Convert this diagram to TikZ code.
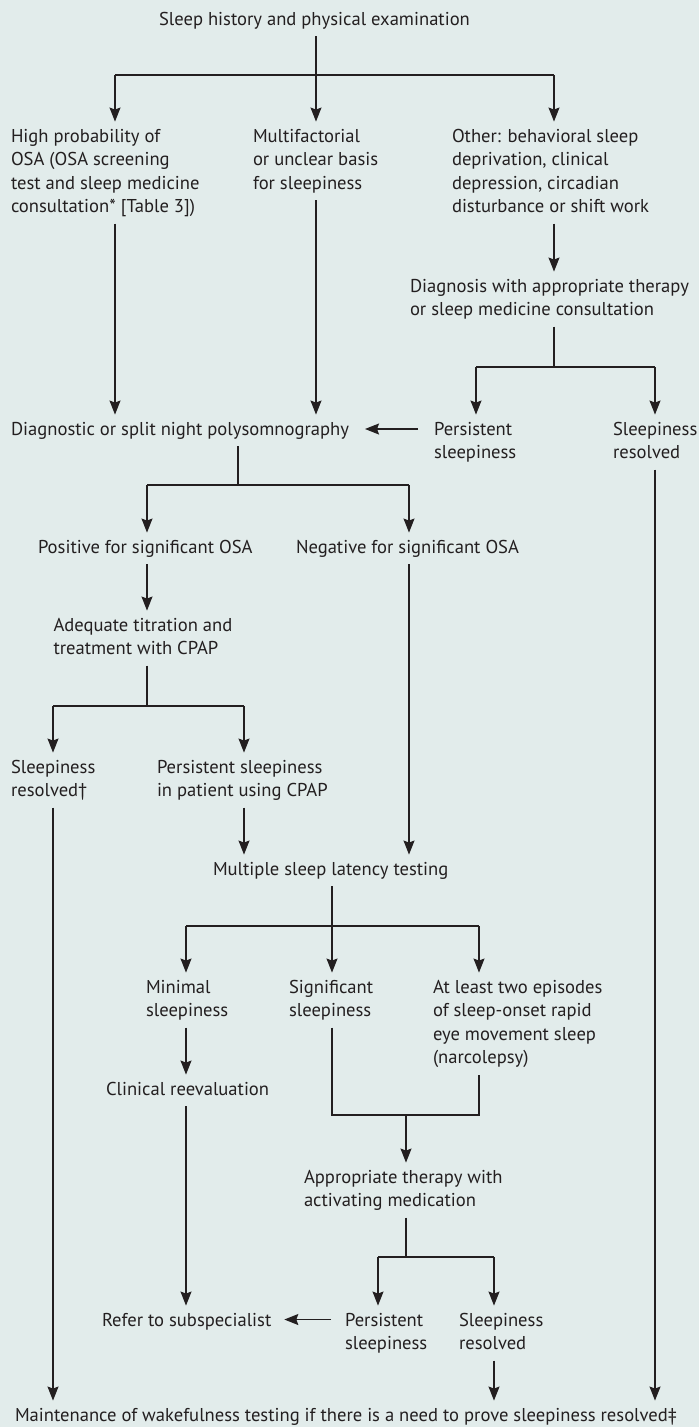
\documentclass[tikz,border=0pt]{standalone}
\usepackage{fontspec}
\setmainfont{PT Sans}
\usetikzlibrary{arrows.meta}
\definecolor{bg}{HTML}{E2ECEB}
\definecolor{ink}{HTML}{231F20}
\newcommand{\mlines}[1]{\begin{tabular}[t]{@{}l@{}}#1\end{tabular}}
\begin{document}
\begin{tikzpicture}[x=1pt,y=-1pt,
  txt/.style={anchor=base west, inner sep=0pt, outer xsep=0pt, outer ysep=4pt, text=ink,
    font=\fontsize{18.6}{23.5}\selectfont},
  conn/.style={draw=ink, line width=1.2pt},
  arr/.style={conn, -{Stealth[length=14pt,width=11pt,inset=2pt]}}]
\fill[bg] (0,0) rectangle (699,1427);
\useasboundingbox (0,0) rectangle (699,1427);

% nodes
\node[txt] (t) at (159,25) {\mlines{Sleep history and physical examination}};
\node[txt] (hp) at (11,142) {\mlines{High probability of\\OSA (OSA screening\\test and sleep medicine\\consultation* [Table 3])}};
\node[txt] (mf) at (253,142) {\mlines{Multifactorial\\or unclear basis\\for sleepiness}};
\node[txt] (oth) at (452,142) {\mlines{Other: behavioral sleep\\deprivation, clinical\\depression, circadian\\disturbance or shift work}};
\node[txt] (diag) at (410,292) {\mlines{Diagnosis with appropriate therapy\\or sleep medicine consultation}};
\node[txt] (dsn) at (11,435) {\mlines{Diagnostic or split night polysomnography}};
\node[txt] (ps1) at (434,435) {\mlines{Persistent\\sleepiness}};
\node[txt] (sr1) at (613,435) {\mlines{Sleepiness\\resolved}};
\node[txt] (pos) at (38,553) {\mlines{Positive for significant OSA}};
\node[txt] (neg) at (296,553) {\mlines{Negative for significant OSA}};
\node[txt] (adq) at (53.5,631) {\mlines{Adequate titration and\\treatment with CPAP}};
\node[txt] (sr2) at (11,773) {\mlines{Sleepiness\\resolved†}};
\node[txt] (ps2) at (157,773) {\mlines{Persistent sleepiness\\in patient using CPAP}};
\node[txt] (mslt) at (213,875) {\mlines{Multiple sleep latency testing}};
\node[txt] (min) at (146,993) {\mlines{Minimal\\sleepiness}};
\node[txt] (sig) at (289,993) {\mlines{Significant\\sleepiness}};
\node[txt] (atl) at (433,993) {\mlines{At least two episodes\\of sleep-onset rapid\\eye movement sleep\\(narcolepsy)}};
\node[txt] (clin) at (106,1095) {\mlines{Clinical reevaluation}};
\node[txt] (appr) at (304,1183) {\mlines{Appropriate therapy with\\activating medication}};
\node[txt] (ref) at (102,1326) {\mlines{Refer to subspecialist}};
\node[txt] (ps3) at (345,1326) {\mlines{Persistent\\sleepiness}};
\node[txt] (sr3) at (459,1326) {\mlines{Sleepiness\\resolved}};
\node[txt] (mwt) at (15,1421) {\mlines{Maintenance of wakefulness testing if there is a need to prove sleepiness resolved‡}};

% junction coordinates
\coordinate (b1) at (316,75); \coordinate (b1l) at (115,75); \coordinate (b1r) at (554,75);
\coordinate (b2) at (554,367); \coordinate (b2l) at (476,367); \coordinate (b2r) at (655,367);
\coordinate (b3) at (238,485); \coordinate (b3l) at (147,485); \coordinate (b3r) at (409,485);
\coordinate (b4) at (147,706); \coordinate (b4l) at (53,706); \coordinate (b4r) at (244,706);
\coordinate (b5) at (332,926); \coordinate (b5l) at (186,926); \coordinate (b5r) at (479,926);
\coordinate (b6) at (406,1115);
\coordinate (b7) at (406,1257); \coordinate (b7l) at (378,1257); \coordinate (b7r) at (494,1257);

% connectors
\draw[conn] (t.south -| b1) -- (b1);
\draw[conn] (b1l) -- (b1r);
\draw[arr] (b1l) -- (b1l |- hp.north);
\draw[arr] (b1) -- (b1 |- mf.north);
\draw[arr] (b1r) -- (b1r |- oth.north);

\draw[arr] (hp.south -| b1l) -- (b1l |- dsn.north);
\draw[arr] (mf.south -| b1) -- (b1 |- dsn.north);
\draw[arr] (oth.south -| b1r) -- (b1r |- diag.north);

\draw[conn] (diag.south -| b2) -- (b2);
\draw[conn] (b2l) -- (b2r);
\draw[arr] (b2l) -- (b2l |- ps1.north);
\draw[arr] (b2r) -- (b2r |- sr1.north);
\draw[arr] ([xshift=-16pt,yshift=6pt]ps1.base west) -- ([xshift=16pt,yshift=6pt]dsn.base east);

\draw[conn] (dsn.south -| b3) -- (b3);
\draw[conn] (b3l) -- (b3r);
\draw[arr] (b3l) -- (b3l |- pos.north);
\draw[arr] (b3r) -- (b3r |- neg.north);
\draw[arr] (pos.south -| b3l) -- (b3l |- adq.north);

\draw[conn] (adq.south -| b4) -- (b4);
\draw[conn] (b4l) -- (b4r);
\draw[arr] (b4l) -- (b4l |- sr2.north);
\draw[arr] (b4r) -- (b4r |- ps2.north);
\draw[arr] (ps2.south -| b4r) -- (b4r |- mslt.north);
\draw[arr] (neg.south -| b3r) -- (b3r |- mslt.north);

\draw[conn] (mslt.south -| b5) -- (b5);
\draw[conn] (b5l) -- (b5r);
\draw[arr] (b5l) -- (b5l |- min.north);
\draw[arr] (b5) -- (b5 |- sig.north);
\draw[arr] (b5r) -- (b5r |- atl.north);
\draw[arr] (min.south -| b5l) -- (b5l |- clin.north);

\draw[conn] (sig.south -| b5) |- (b6) -| (atl.south -| b5r);
\draw[arr] (b6) -- (b6 |- appr.north);

\draw[conn] (appr.south -| b7) -- (b7);
\draw[conn] (b7l) -- (b7r);
\draw[arr] (b7l) -- (b7l |- ps3.north);
\draw[arr] (b7r) -- (b7r |- sr3.north);
\draw[arr] (clin.south -| b5l) -- (b5l |- ref.north);
\draw[arr] ([xshift=-14pt,yshift=6.5pt]ps3.base west) -- ([xshift=13pt,yshift=6.5pt]ref.base east);

\draw[arr] (sr3.south -| b7r) -- (b7r |- mwt.north);
\draw[arr] (sr2.south -| b4l) -- (b4l |- mwt.north);
\draw[arr] (sr1.south -| b2r) -- (b2r |- mwt.north);
\end{tikzpicture}
\end{document}
